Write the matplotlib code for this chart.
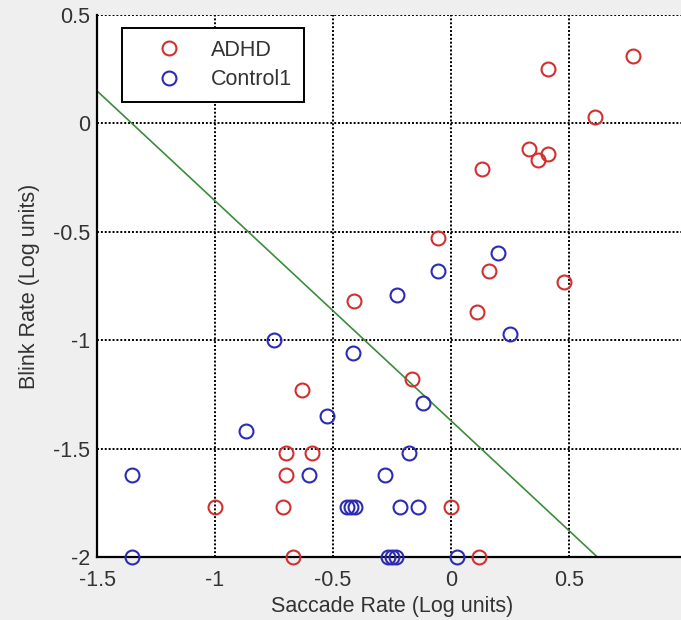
import matplotlib
matplotlib.use("Agg")
import matplotlib.pyplot as plt

# ADHD group (red)
adhd_x = [0.77, 0.41, 0.61, 0.33, 0.41, 0.37, 0.13, -0.055, 0.16, 0.48, 0.11,
          -0.41, -0.165, -0.63, -0.70, -0.59, -0.70, -1.0, -0.71, -0.67, 0.0, 0.12]
adhd_y = [0.31, 0.25, 0.03, -0.12, -0.14, -0.17, -0.21, -0.53, -0.68, -0.73, -0.87,
          -0.82, -1.18, -1.23, -1.52, -1.52, -1.62, -1.77, -1.77, -2.0, -1.77, -2.0]

# Control1 group (blue)
ctrl_x = [0.20, -0.055, -0.23, 0.25, -0.75, -0.415, -0.12, -0.525, -0.87, -0.18,
          -0.28, -0.60, -1.35, -1.35, -0.44, -0.424, -0.407, -0.216, -0.14,
          -0.265, -0.25, -0.233, 0.025]
ctrl_y = [-0.60, -0.68, -0.79, -0.97, -1.0, -1.06, -1.29, -1.35, -1.42, -1.52,
          -1.62, -1.62, -1.62, -2.0, -1.77, -1.77, -1.77, -1.77, -1.77,
          -2.0, -2.0, -2.0, -2.0]

# discriminant line
line_x = [-1.5, 0.62]
line_y = [0.15, -2.0]

xticks = [-1.5, -1, -0.5, 0, 0.5]
xtick_labels = ["-1.5", "-1", "-0.5", "0", "0.5"]
yticks = [0.5, 0, -0.5, -1, -1.5, -2]
ytick_labels = ["0.5", "0", "-0.5", "-1", "-1.5", "-2"]

plt.rcParams['font.family'] = ['Liberation Sans', 'DejaVu Sans']
FS = 15.5
TXT = '#333333'

fig = plt.figure(figsize=(6.81, 6.20), dpi=100, facecolor='#efefef')
# axes run slightly past the right edge like the cropped original
ax = fig.add_axes([97 / 681, 1 - 557 / 620, 590 / 681, 542 / 620])
ax.set_facecolor('white')

ax.plot(adhd_x, adhd_y, 'o', mfc='none', mec='#d22f2f', mew=1.5, ms=10,
        label='ADHD', clip_on=False, zorder=3)
ax.plot(ctrl_x, ctrl_y, 'o', mfc='none', mec='#2b2bb5', mew=1.5, ms=10,
        label='Control1', clip_on=False, zorder=3)
ax.plot(line_x, line_y, '-', color='#3c8c3c', lw=1.2, zorder=2)

ax.set_xlim(-1.5, 1.0)
ax.set_ylim(-2, 0.5)
ax.set_xticks(xticks)
ax.set_xticklabels(xtick_labels)
ax.set_yticks(yticks)
ax.set_yticklabels(ytick_labels)
ax.tick_params(direction='in', length=0, labelsize=FS, colors=TXT)
ax.tick_params(axis='y', pad=5)
ax.tick_params(axis='x', pad=9)

ax.grid(True, color='black', linestyle=(0, (1, 1)), linewidth=1.4)
ax.set_axisbelow(True)
for side in ['top', 'right']:
    ax.spines[side].set_visible(False)
for side in ['left', 'bottom']:
    ax.spines[side].set_linewidth(1.6)
    ax.spines[side].set_color('black')

ax.set_xlabel('Saccade Rate (Log units)', fontsize=FS, color=TXT, labelpad=4)
ax.set_ylabel('Blink Rate (Log units)', fontsize=FS, color=TXT, labelpad=9)

leg = ax.legend(loc='upper left', bbox_to_anchor=(0.0424, 0.976), fontsize=FS,
                frameon=True, fancybox=False, framealpha=1, edgecolor='black',
                borderpad=0.55, handletextpad=0.3, borderaxespad=0,
                labelspacing=0.4, handlelength=3.3)
leg.get_frame().set_linewidth(1.4)
for t in leg.get_texts():
    t.set_color(TXT)

fig.savefig('out.png', dpi=100, facecolor=fig.get_facecolor())
